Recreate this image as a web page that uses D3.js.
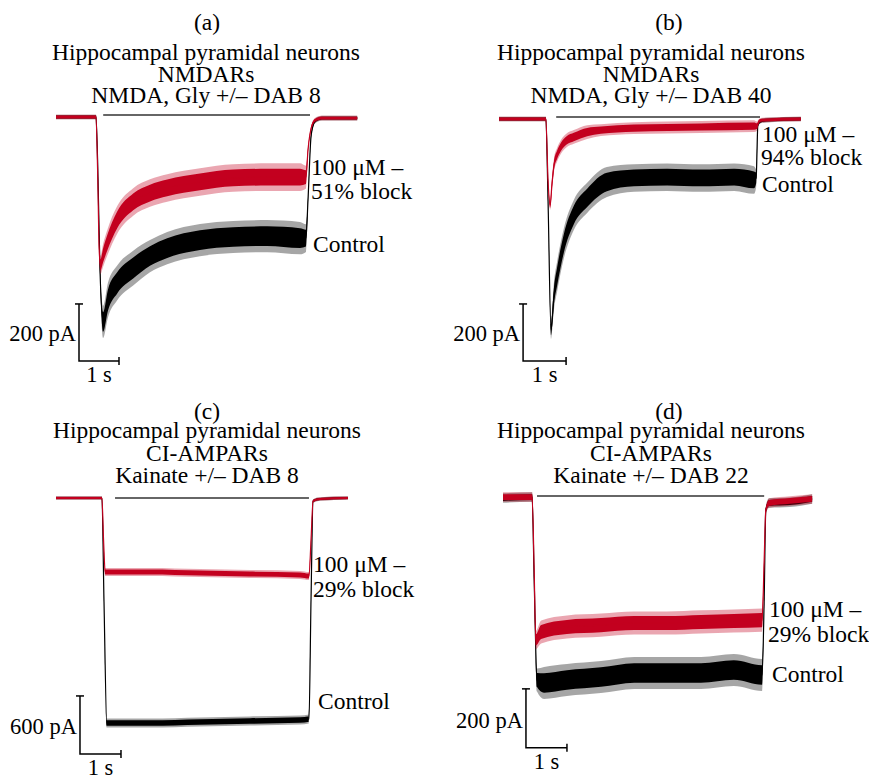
<!DOCTYPE html>
<html>
<head>
<meta charset="utf-8">
<script src="https://cdn.jsdelivr.net/npm/d3@7"></script>
<style>
  body { margin: 0; background: #fff; }
  text { font-family: "Liberation Serif", "Times New Roman", serif; fill: #000; }
</style>
</head>
<body>
<div id="chart"></div>
<script>
// time in s, current in pA, noise = half-width of the noisy band in pA
const aControlT = [0, 1.0, 1.04, 1.1, 1.18, 1.3, 1.53, 1.93, 2.35, 2.78, 3.6, 4.43, 5.28, 6.1, 6.25, 6.3, 6.38, 6.48, 6.65, 7.53];
const aControlI = [0, 0, -151, -537, -719, -642, -582, -530, -488, -460, -432, -421, -418, -425, -425, -291, -63, -14, -4, -4];
const aControlN = [7, 7, 7, 21, 49, 53, 53, 53, 49, 49, 49, 49, 49, 49, 42, 10, 7, 7, 7, 7];
const aBlockT = [0, 1.0, 1.04, 1.08, 1.11, 1.18, 1.28, 1.53, 1.93, 2.35, 2.78, 3.6, 4.43, 5.28, 6.1, 6.25, 6.3, 6.38, 6.48, 6.65, 7.53];
const aBlockI = [0, 0, -186, -467, -519, -484, -442, -361, -298, -267, -249, -228, -214, -211, -211, -211, -116, -39, -11, -4, -4];
const aBlockN = [7, 7, 7, 14, 28, 35, 39, 42, 42, 42, 42, 42, 42, 42, 42, 35, 10, 7, 7, 7, 7];

const bControlT = [0, 1.09, 1.14, 1.21, 1.28, 1.35, 1.51, 1.74, 2.05, 2.51, 3.14, 3.91, 4.7, 5.47, 5.93, 5.98, 6.02, 6.09, 6.21, 7.02];
const bControlI = [0, 0, -284, -740, -618, -554, -435, -337, -277, -221, -207, -204, -207, -204, -214, -207, -21, -7, -4, 0];
const bControlN = [7, 7, 7, 28, 42, 46, 46, 46, 46, 46, 42, 42, 42, 42, 42, 28, 7, 7, 7, 7];
const bBlockT = [0, 1.09, 1.14, 1.19, 1.23, 1.28, 1.35, 1.44, 1.58, 1.74, 2.05, 2.37, 3.14, 4.7, 5.93, 6.0, 6.05, 6.12, 7.02];
const bBlockI = [0, 0, -214, -302, -232, -161, -126, -98, -74, -63, -46, -39, -32, -28, -25, -25, -7, -4, 0];
const bBlockN = [7, 7, 7, 14, 21, 21, 21, 21, 21, 21, 21, 18, 18, 18, 18, 14, 7, 7, 7];

const cControlT = [0, 1.12, 1.17, 1.24, 2.29, 3.51, 4.73, 5.95, 6.17, 6.22, 6.27, 6.44, 7.12];
const cControlI = [0, 0, -1055, -2327, -2327, -2316, -2306, -2296, -2285, -1055, -31, -10, 0];
const cControlN = [16, 16, 16, 41, 41, 41, 41, 41, 41, 16, 16, 16, 16];
const cBlockT = [0, 1.12, 1.16, 1.2, 2.29, 3.51, 4.73, 5.95, 6.17, 6.22, 6.27, 6.44, 7.12];
const cBlockI = [0, 0, -434, -765, -765, -776, -786, -796, -807, -434, -31, -10, 0];
const cBlockN = [16, 16, 16, 36, 36, 36, 36, 36, 36, 16, 16, 16, 16];

const dControlT = [0, 0.71, 0.76, 0.83, 1.0, 1.56, 2.39, 3.2, 4.0, 4.83, 5.63, 6.32, 6.37, 6.41, 6.49, 7.0, 7.54];
const dControlI = [0, 3, -278, -617, -627, -617, -607, -593, -593, -593, -583, -600, -346, -41, -17, -14, -3];
const dControlN = [14, 14, 10, 34, 47, 47, 47, 47, 47, 47, 47, 47, 10, 10, 14, 14, 14];
const dBlockT = [0, 0.71, 0.76, 0.8, 0.93, 1.56, 2.39, 3.2, 4.0, 4.83, 5.63, 6.32, 6.37, 6.41, 6.49, 7.0, 7.54];
const dBlockI = [3, 3, -244, -481, -454, -437, -431, -424, -424, -420, -417, -414, -210, -41, -17, -10, -3];
const dBlockN = [14, 14, 10, 27, 34, 34, 34, 34, 34, 34, 34, 34, 10, 10, 14, 14, 14];

// drug application bar (s) and scale bars
const barStart = [1.18, 1.33, 1.44, 0.83];
const barEnd = [6.35, 6.07, 6.17, 6.37];
const barLevel = [7, 7, 0, 7];
const scalePA = [200, 200, 600, 200];
const scaleSec = [1, 1, 1, 1];

const letters = ["(a)", "(b)", "(c)", "(d)"];
const cells = ["Hippocampal pyramidal neurons", "Hippocampal pyramidal neurons", "Hippocampal pyramidal neurons", "Hippocampal pyramidal neurons"];
const receptors = ["NMDARs", "NMDARs", "CI-AMPARs", "CI-AMPARs"];
const protocols = ["NMDA, Gly +/\u2013 DAB 8", "NMDA, Gly +/\u2013 DAB 40", "Kainate +/\u2013 DAB 8", "Kainate +/\u2013 DAB 22"];
const concLabels = ["100 \u03bcM \u2013", "100 \u03bcM \u2013", "100 \u03bcM \u2013", "100 \u03bcM \u2013"];
const blockLabels = ["51% block", "94% block", "29% block", "29% block"];
const controlLabels = ["Control", "Control", "Control", "Control"];

const controls = [
  [aControlT, aControlI, aControlN], [bControlT, bControlI, bControlN],
  [cControlT, cControlI, cControlN], [dControlT, dControlI, dControlN]
];
const blocks = [
  [aBlockT, aBlockI, aBlockN], [bBlockT, bBlockI, bBlockN],
  [cBlockT, cBlockI, cBlockN], [dBlockT, dBlockI, dBlockN]
];

// layout per panel
const layout = [
  { x0: 56, pxs: 40, y0: 117, pxpa: 0.285, tx: 206, lx: 207, ty: [30, 60, 82, 103], sbT: 0.575, sbI: -856,
    conc: [311, 175], block: [311, 199], ctrl: [313, 252] },
  { x0: 499, pxs: 43, y0: 119, pxpa: 0.285, tx: 651, lx: 669, ty: [30, 60, 82, 103], sbT: 0.56, sbI: -849,
    conc: [762, 142], block: [761, 165], ctrl: [762, 192] },
  { x0: 56, pxs: 41, y0: 498, pxpa: 0.0967, tx: 207, lx: 207, ty: [419, 438, 461, 483], sbT: 0.585, sbI: -2647,
    conc: [313, 572], block: [313, 597], ctrl: [318, 709] },
  { x0: 503, pxs: 41, y0: 498, pxpa: 0.295, tx: 651, lx: 669, ty: [419, 438, 461, 483], sbT: 0.56, sbI: -847,
    conc: [769, 617], block: [768, 642], ctrl: [772, 682] }
];

const red = "#c3001f";
const fs = "23.5px";

const svg = d3.select("#chart").append("svg")
    .attr("width", 869)
    .attr("height", 775);

layout.forEach((L, i) => {
    const x = d3.scaleLinear().domain([0, 1]).range([L.x0, L.x0 + L.pxs]);
    const y = d3.scaleLinear().domain([0, -100]).range([L.y0, L.y0 + 100 * L.pxpa]);
    const g = svg.append("g");

    // titles
    g.append("text").attr("x", L.lx).attr("y", L.ty[0])
        .attr("text-anchor", "middle").style("font-size", fs).text(letters[i]);
    [cells[i], receptors[i], protocols[i]].forEach((s, k) => {
        g.append("text").attr("x", L.tx).attr("y", L.ty[k + 1])
            .attr("text-anchor", "middle").style("font-size", fs).text(s);
    });

    // application bar
    g.append("line")
        .attr("x1", x(barStart[i])).attr("x2", x(barEnd[i]))
        .attr("y1", y(barLevel[i])).attr("y2", y(barLevel[i]))
        .attr("stroke", "#333").attr("stroke-width", 1.6);

    // noisy trace: faint outer band (spikes), dense core, centre line
    const drawTrace = (series, color) => {
        const pts = series[0].map((t, j) => ({ t: t, v: series[1][j], n: series[2][j] }));
        const band = k => d3.area()
            .x(d => x(d.t))
            .y0(d => y(d.v - d.n * k))
            .y1(d => y(d.v + d.n * k))
            .curve(d3.curveMonotoneX);
        const line = d3.line()
            .x(d => x(d.t))
            .y(d => y(d.v))
            .curve(d3.curveMonotoneX);
        g.append("path").attr("d", band(1.15)(pts)).attr("fill", color).attr("opacity", 0.35);
        g.append("path").attr("d", band(0.7)(pts)).attr("fill", color);
        g.append("path").attr("d", line(pts)).attr("fill", "none")
            .attr("stroke", color).attr("stroke-width", 1.2);
    };
    drawTrace(controls[i], "#000");
    drawTrace(blocks[i], red);

    // scale bar
    const cx = x(L.sbT), cy = y(L.sbI);
    const topY = y(L.sbI + scalePA[i]), rightX = x(L.sbT + scaleSec[i]);
    const sb = g.append("g").attr("stroke", "#000").attr("stroke-width", 1.5).attr("fill", "none");
    sb.append("path").attr("d", `M${cx},${topY}V${cy}H${rightX}`);
    sb.append("path").attr("d", `M${cx - 4},${topY}H${cx + 4}`);
    sb.append("path").attr("d", `M${rightX},${cy - 4}V${cy + 4}`);
    g.append("text").attr("x", cx - 3).attr("y", cy - 20)
        .attr("text-anchor", "end").style("font-size", "22.5px").text(`${scalePA[i]} pA`);
    g.append("text").attr("x", (cx + rightX) / 2).attr("y", cy + 21)
        .attr("text-anchor", "middle").style("font-size", "22.5px").text(`${scaleSec[i]} s`);

    // trace labels
    g.append("text").attr("x", L.conc[0]).attr("y", L.conc[1]).style("font-size", fs).text(concLabels[i]);
    g.append("text").attr("x", L.block[0]).attr("y", L.block[1]).style("font-size", fs).text(blockLabels[i]);
    g.append("text").attr("x", L.ctrl[0]).attr("y", L.ctrl[1]).style("font-size", fs).text(controlLabels[i]);
});
</script>
</body>
</html>
